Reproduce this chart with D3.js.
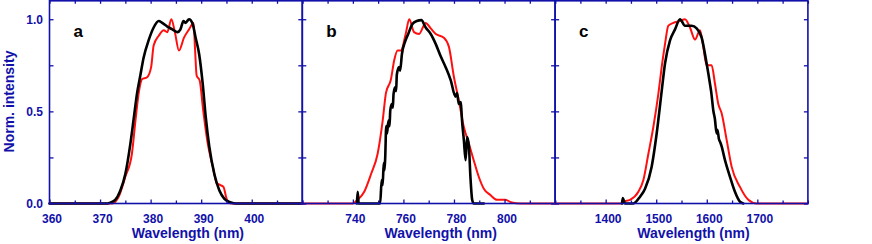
<!DOCTYPE html>
<html>
<head>
<meta charset="utf-8">
<script src="https://cdn.jsdelivr.net/npm/d3@7"></script>
<style>
  body { margin: 0; background: #fff; }
  svg { display: block; }
  text { font-family: "Liberation Sans", Arial, sans-serif; font-weight: bold; }
  .line { fill: none; stroke-linejoin: round; stroke-linecap: round; }
</style>
</head>
<body>
<script>
// spectra, [wavelength nm, normalised intensity]
var aRed = [[360,0],[372.4,0],[373.7,0.037],[375,0.145],[376.3,0.27],[377,0.45],[377.7,0.61],[378.3,0.675],
  [379.3,0.685],[380.1,0.74],[380.6,0.857],[381.6,0.91],[382.6,0.94],[383.3,0.93],[384.1,1.0],[384.8,0.93],
  [385.6,0.83],[386.6,0.9],[387.6,0.945],[388.5,0.98],[388.8,0.83],[389.1,0.695],[389.7,0.667],[390.4,0.505],
  [391.3,0.325],[392.3,0.2],[393.1,0.11],[393.8,0.1],[394.4,0.09],[395.1,0.02],[395.9,0],[410,0]];
var aBlack = [[360,0],[371.5,0],[372,0.005],[373,0.02],[374,0.07],[375,0.16],[376,0.325],[376.7,0.47],[377.3,0.595],
  [378,0.7],[378.6,0.79],[379.6,0.885],[380.6,0.955],[381.6,0.99],[382.3,0.98],[383.3,0.96],[384.3,0.945],
  [385.3,0.93],[385.9,0.945],[386.5,0.99],[386.9,0.98],[387.6,1.0],[388.3,0.975],[388.9,0.9],[389.6,0.81],
  [390.3,0.65],[390.9,0.47],[391.6,0.31],[392.6,0.16],[393.6,0.07],[394.6,0.025],[395.9,0.005],[396.9,0],[410,0]];

var bRed = [[720,0],[739.9,0],[741.9,0.02],[744.5,0.064],[747.2,0.16],[749.8,0.27],[751.8,0.45],[753.1,0.6],
  [755,0.67],[756.4,0.78],[757.7,0.83],[759,0.83],[760.9,0.92],[762.3,1.0],[764.2,0.93],[766.2,0.92],
  [768.8,0.98],[770.8,0.95],[772.8,0.92],[776,0.9],[778,0.85],[780,0.685],[781.9,0.56],[783.9,0.415],
  [785.9,0.325],[787.8,0.235],[789.8,0.145],[791.8,0.08],[794.4,0.046],[797,0.02],[800.3,0.02],[802.9,0.005],
  [806.2,0],[820,0]];
var bBlack = [[741.6,0],[741.9,0.064],[742.3,0],[750.8,0],[751.4,0.127],[751.8,0.1],[752.2,0.22],[752.5,0.18],
  [752.8,0.25],[753.2,0.42],[753.5,0.38],[754.1,0.45],[754.5,0.42],[754.8,0.505],[755.4,0.54],[755.8,0.52],
  [756.1,0.595],[756.7,0.63],[757.1,0.61],[757.4,0.7],[758.3,0.74],[758.7,0.72],[759.4,0.81],[760.7,0.88],
  [761.9,0.92],[763.6,0.975],[765.3,0.99],[767.1,0.995],[768.8,0.955],[770.8,0.92],[772.8,0.865],[774.7,0.8],
  [776.7,0.74],[778.7,0.67],[780.6,0.58],[781.2,0.6],[781.9,0.54],[782.6,0.55],[783.3,0.43],[783.9,0.345],
  [784.6,0.235],[785.2,0.36],[785.9,0.31],[786.5,0.145],[787.2,0.02],[787.8,0],[791.8,0]];

var cRed = [[1300,0],[1430,0],[1435,0.01],[1448.2,0.02],[1464.7,0.064],[1474.6,0.127],[1484.5,0.27],
  [1494.3,0.415],[1504.2,0.595],[1510.8,0.74],[1517.4,0.865],[1524,0.965],[1533.9,0.98],[1547,0.99],
  [1556.9,1.0],[1566.8,0.955],[1576.7,0.89],[1586.6,0.94],[1593.1,0.85],[1599.7,0.75],[1609.6,0.75],
  [1616.2,0.65],[1622.8,0.54],[1629.4,0.49],[1639.3,0.345],[1649.1,0.2],[1665.6,0.09],[1682.1,0.02],
  [1698.6,0],[1800,0]];
var cBlack = [[1432.5,0],[1433.7,0.03],[1438.3,0],[1454.8,0],[1468,0.037],[1477.9,0.08],[1491,0.2],
  [1500.9,0.38],[1510.8,0.61],[1517.4,0.76],[1527.3,0.885],[1537.2,0.945],[1547,1.0],[1556.9,0.965],
  [1570.1,0.965],[1580,0.95],[1589.9,0.9],[1599.7,0.76],[1606.3,0.65],[1609,0.6],[1612.9,0.505],[1616,0.46],
  [1619.5,0.38],[1621,0.4],[1624,0.35],[1627,0.33],[1629.4,0.31],[1636,0.235],[1645.9,0.145],[1655.7,0.064],
  [1665.6,0.01],[1672.2,0]];

// axis ticks
var aDomain = [360, 410], bDomain = [720, 820], cDomain = [1300, 1800];
var aLabels = [360, 370, 380, 390, 400], aTicks = [360, 365, 370, 375, 380, 385, 390, 395, 400, 405, 410];
var bLabels = [740, 760, 780, 800], bTicks = [720, 730, 740, 750, 760, 770, 780, 790, 800, 810, 820];
var cLabels = [1400, 1500, 1600, 1700], cTicks = [1300, 1350, 1400, 1450, 1500, 1550, 1600, 1650, 1700, 1750, 1800];
var yLabels = [0, 0.5, 1.0], yTicks = [0, 0.25, 0.5, 0.75, 1.0];
var panelLetters = ["a", "b", "c"];

var blue = "#1111aa";
var width = 872, height = 244;
var plotTop = 0.8, plotBottom = 203.5;
var panelLeft = [49.5, 302.3, 555.1], panelWidth = 252.8;

var svg = d3.select("body").append("svg")
    .attr("width", width)
    .attr("height", height);

var y = d3.scaleLinear().domain([0, 1.1]).range([plotBottom, plotTop]);

var panels = [
  {domain: aDomain, labels: aLabels, ticks: aTicks, red: aRed, black: aBlack},
  {domain: bDomain, labels: bLabels, ticks: bTicks, red: bRed, black: bBlack},
  {domain: cDomain, labels: cLabels, ticks: cTicks, red: cRed, black: cBlack}
];

function styleAxis(g) {
  g.select(".domain").remove();
  g.selectAll("line").attr("stroke", blue).attr("stroke-width", 1.3);
  g.selectAll("text").attr("fill", blue).style("font-size", "12px");
}

panels.forEach(function(p, i) {
  var x0 = panelLeft[i];
  var x = d3.scaleLinear().domain(p.domain).range([x0, x0 + panelWidth]);
  var minor = p.ticks.filter(function(t) { return p.labels.indexOf(t) < 0; });
  var g = svg.append("g");

  var line = d3.line()
      .x(function(d) { return x(d[0]); })
      .y(function(d) { return y(d[1]); })
      .curve(d3.curveMonotoneX);

  // spectra, red under black
  g.append("path").datum(p.red).attr("class", "line")
      .attr("stroke", "#ff1010").attr("stroke-width", 2).attr("d", line);
  g.append("path").datum(p.black).attr("class", "line")
      .attr("stroke", "#000").attr("stroke-width", 2.6).attr("d", line);

  // bottom axis, ticks inward
  g.append("g").attr("transform", "translate(0," + plotBottom + ")")
      .call(d3.axisBottom(x).tickValues(p.labels).tickSizeInner(-4).tickSizeOuter(0).tickPadding(10.5)
        .tickFormat(d3.format("d")))
      .call(styleAxis)
      .selectAll("text").attr("dx", 2);
  g.append("g").attr("transform", "translate(0," + plotBottom + ")")
      .call(d3.axisBottom(x).tickValues(minor).tickSizeInner(-3).tickSizeOuter(0).tickFormat(""))
      .call(styleAxis);
  // top axis
  g.append("g").attr("transform", "translate(0," + plotTop + ")")
      .call(d3.axisTop(x).tickValues(p.ticks).tickSizeInner(-3).tickSizeOuter(0).tickFormat(""))
      .call(styleAxis);

  // left and right ticks
  var left = d3.axisLeft(y).tickValues(yTicks).tickSizeInner(-4).tickSizeOuter(0).tickPadding(6.5)
      .tickFormat(function(d) { return i === 0 && yLabels.indexOf(d) >= 0 ? d3.format(".1f")(d) : ""; });
  g.append("g").attr("transform", "translate(" + x0 + ",0)").call(left).call(styleAxis);
  g.append("g").attr("transform", "translate(" + (x0 + panelWidth) + ",0)")
      .call(d3.axisRight(y).tickValues(yTicks).tickSizeInner(-4).tickSizeOuter(0).tickFormat(""))
      .call(styleAxis);

  // frame
  g.append("rect")
      .attr("x", x0).attr("y", plotTop)
      .attr("width", panelWidth).attr("height", plotBottom - plotTop)
      .attr("fill", "none").attr("stroke", blue).attr("stroke-width", 1.6);

  // panel letter
  g.append("text")
      .attr("x", x0 + 24).attr("y", 36.5)
      .style("font-size", "17px")
      .attr("fill", "#000")
      .text(panelLetters[i]);

  // x title
  g.append("text")
      .attr("x", x0 + panelWidth / 2 + 12).attr("y", 238)
      .attr("text-anchor", "middle")
      .style("font-size", "14px")
      .attr("fill", blue)
      .text("Wavelength (nm)");
});

// y title
svg.append("text")
    .attr("transform", "translate(13.5,101.5) rotate(-90)")
    .attr("text-anchor", "middle")
    .style("font-size", "14px")
    .attr("fill", blue)
    .text("Norm. intensity");
</script>
</body>
</html>
